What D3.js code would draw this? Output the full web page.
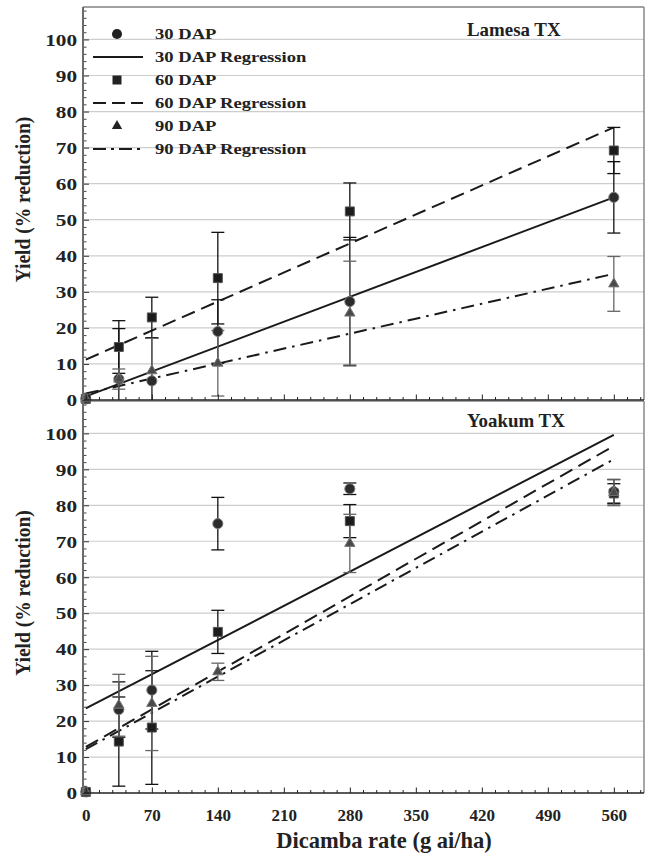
<!DOCTYPE html>
<html>
<head>
<meta charset="utf-8">
<script src="https://cdn.jsdelivr.net/npm/d3@7"></script>
<style>
body { margin: 0; background: #fff; }
svg text { font-family: "Liberation Serif", "Times New Roman", serif; font-weight: bold; fill: #222; }
</style>
</head>
<body>
<div id="chart"></div>
<script>
// rates (g ai/ha) where yield was measured
var rates = [0, 35, 70, 140, 280, 560];
var xMajorTicks = [0, 70, 140, 210, 280, 350, 420, 490, 560];
var yMajorTicks = [0, 10, 20, 30, 40, 50, 60, 70, 80, 90, 100];

// Lamesa TX
var lamesa30    = [0.3, 5.8, 5.3, 19.0, 27.3, 56.2];
var lamesa30Err = [0, 14.0, 11.8, 8.8, 17.8, 9.9];
var lamesa60    = [0.3, 14.7, 22.9, 33.8, 52.3, 69.2];
var lamesa60Err = [0, 7.3, 5.6, 12.7, 7.9, 6.4];
var lamesa90    = [0.3, 5.8, 8.1, 10.2, 24.1, 32.2];
var lamesa90Err = [0, 2.8, 9.0, 9.1, 14.4, 7.6];
// regression lines: fitted value at 0 and at 560
var lamesaReg30 = [1.0, 56.2];
var lamesaReg60 = [11.2, 75.6];
var lamesaReg90 = [1.8, 35.0];

// Yoakum TX
var yoakum30    = [0.3, 23.2, 28.6, 74.9, 84.6, 83.8];
var yoakum30Err = [0, 7.7, 10.8, 7.3, 1.6, 3.4];
var yoakum60    = [0.3, 14.3, 18.2, 44.8, 75.6, 83.3];
var yoakum60Err = [0, 12.4, 15.8, 6.0, 4.6, 2.7];
var yoakum90    = [0.3, 24.4, 24.9, 33.7, 69.4, 83.5];
var yoakum90Err = [0, 8.6, 13.1, 2.4, 8.1, 3.6];
var yoakumReg30 = [23.5, 99.6];
var yoakumReg60 = [12.8, 96.5];
var yoakumReg90 = [12.2, 92.8];
var regRates = [0, 560];

var legendLabels = ["30 DAP", "30 DAP Regression", "60 DAP", "60 DAP Regression", "90 DAP", "90 DAP Regression"];

// styles per DAP series
var seriesStyle = [
  {symbol: d3.symbolCircle, size: 80, fill: "#2b2b2b", stroke: "#7a7a7a", err: "#111", dash: null},
  {symbol: d3.symbolSquare, size: 81, fill: "#1c1c1c", stroke: "#555", err: "#111", dash: "14,7"},
  {symbol: d3.symbolTriangle, size: 46, fill: "#4a4a4a", stroke: "#777", err: "#666", dash: "13,6,2.5,6"}
];

var width = 646, height = 860;
var left = 83, right = 644;

var svg = d3.select("#chart")
  .append("svg")
    .attr("width", width)
    .attr("height", height);

var x = d3.scaleLinear()
  .domain([-3, 592])
  .range([left, right]);

var panels = [
  {name: "Lamesa TX", top: 7, bottom: 400, titleY: 36, labels: false,
   means: [lamesa30, lamesa60, lamesa90], errs: [lamesa30Err, lamesa60Err, lamesa90Err],
   regs: [lamesaReg30, lamesaReg60, lamesaReg90]},
  {name: "Yoakum TX", top: 401, bottom: 793, titleY: 427, labels: true,
   means: [yoakum30, yoakum60, yoakum90], errs: [yoakum30Err, yoakum60Err, yoakum90Err],
   regs: [yoakumReg30, yoakumReg60, yoakumReg90]}
];

panels.forEach(function(p, pi) {
  var y = d3.scaleLinear()
    .domain([0, 109])
    .range([p.bottom, p.top]);

  var g = svg.append("g");

  svg.append("clipPath").attr("id", "clip" + pi)
    .append("rect")
      .attr("x", left).attr("y", p.top)
      .attr("width", right - left).attr("height", p.bottom - p.top);

  // gridlines
  g.selectAll(".grid")
    .data(yMajorTicks.filter(function(d) { return d > 0; }))
    .enter().append("line")
      .attr("x1", left).attr("x2", right)
      .attr("y1", function(d) { return y(d); })
      .attr("y2", function(d) { return y(d); })
      .attr("stroke", "#cdcdcd")
      .attr("stroke-width", 1.2);

  var plot = g.append("g").attr("clip-path", "url(#clip" + pi + ")");

  // regression lines
  p.regs.forEach(function(reg, si) {
    plot.append("line")
      .attr("x1", x(regRates[0])).attr("y1", y(reg[0]))
      .attr("x2", x(regRates[1])).attr("y2", y(reg[1]))
      .attr("stroke", "#1a1a1a")
      .attr("stroke-width", 2)
      .attr("stroke-dasharray", seriesStyle[si].dash);
  });

  // error bars
  p.means.forEach(function(m, si) {
    var st = seriesStyle[si];
    var e = p.errs[si];
    var eb = plot.append("g").attr("stroke", st.err).attr("stroke-width", 1.3);
    rates.forEach(function(r, i) {
      if (e[i] <= 0) return;
      var cx = x(r), y1 = y(m[i] - e[i]), y2 = y(m[i] + e[i]);
      eb.append("line").attr("x1", cx).attr("x2", cx).attr("y1", y1).attr("y2", y2);
      eb.append("line").attr("x1", cx - 6.5).attr("x2", cx + 6.5).attr("y1", y1).attr("y2", y1);
      eb.append("line").attr("x1", cx - 6.5).attr("x2", cx + 6.5).attr("y1", y2).attr("y2", y2);
    });
  });

  // markers
  p.means.forEach(function(m, si) {
    var st = seriesStyle[si];
    g.selectAll(".pt" + si)
      .data(rates)
      .enter().append("path")
        .attr("d", d3.symbol().type(st.symbol).size(st.size))
        .attr("transform", function(r, i) { return "translate(" + x(r) + "," + y(m[i]) + ")"; })
        .attr("fill", st.fill)
        .attr("stroke", st.stroke)
        .attr("stroke-width", 1);
  });

  // y axis, ticks pointing inward
  var yAxis = g.append("g")
    .attr("transform", "translate(" + left + ",0)")
    .call(d3.axisLeft(y).tickValues(yMajorTicks).tickSizeInner(-6).tickSizeOuter(0).tickPadding(4.8))
    .attr("font-size", 17)
    .attr("color", "#333");
  yAxis.select(".domain").remove();
  yAxis.selectAll("text").attr("transform", "scale(1.25,1)").attr("dy", "0.34em");

  var yMinor = g.append("g")
    .attr("transform", "translate(" + left + ",0)")
    .call(d3.axisLeft(y).tickValues(d3.range(2, 109, 2).filter(function(d) { return d % 10 !== 0; }))
      .tickSizeInner(-3.5).tickSizeOuter(0).tickFormat(""))
    .attr("color", "#444");
  yMinor.select(".domain").remove();

  // x axis, ticks pointing up
  var xAxis = g.append("g")
    .attr("transform", "translate(0," + p.bottom + ")")
    .call(d3.axisBottom(x).tickValues(xMajorTicks).tickSizeInner(-5.5).tickSizeOuter(0).tickPadding(16)
      .tickFormat(p.labels ? d3.format("d") : ""))
    .attr("font-size", 17)
    .attr("color", "#222");
  xAxis.select(".domain").remove();

  var xMinor = g.append("g")
    .attr("transform", "translate(0," + p.bottom + ")")
    .call(d3.axisBottom(x).tickValues(d3.range(14, 592, 14).filter(function(d) { return d % 70 !== 0; }))
      .tickSizeInner(-3).tickSizeOuter(0).tickFormat(""))
    .attr("color", "#222");
  xMinor.select(".domain").remove();

  // frame
  g.append("line").attr("x1", left).attr("x2", right).attr("y1", p.top).attr("y2", p.top)
    .attr("stroke", "#444").attr("stroke-width", 1.2);
  g.append("line").attr("x1", right).attr("x2", right).attr("y1", p.top).attr("y2", p.bottom)
    .attr("stroke", "#888").attr("stroke-width", 1.5);
  g.append("line").attr("x1", left).attr("x2", right).attr("y1", p.bottom).attr("y2", p.bottom)
    .attr("stroke", "#222").attr("stroke-width", 1.5);
  g.append("line").attr("x1", left).attr("x2", left).attr("y1", p.top).attr("y2", p.bottom + (pi === 0 ? 0 : 0))
    .attr("stroke", "#6b6b6b").attr("stroke-width", 2);

  // panel title
  g.append("text")
    .attr("transform", "translate(467," + p.titleY + ") scale(1.05,1)")
    .attr("font-size", 18)
    .text(p.name);

  // y title
  g.append("text")
    .attr("transform", "translate(30," + ((p.top + p.bottom) / 2 - 4) + ") scale(1.1,1) rotate(-90)")
    .attr("text-anchor", "middle")
    .attr("font-size", 19.5)
    .text("Yield (% reduction)");
});

// legend
var legend = svg.append("g");
legendLabels.forEach(function(lab, i) {
  var cy = 34 + i * 23;
  var st = seriesStyle[Math.floor(i / 2)];
  if (i % 2 === 0) {
    legend.append("path")
      .attr("d", d3.symbol().type(st.symbol).size(st.size))
      .attr("transform", "translate(117," + cy + ")")
      .attr("fill", "#222");
  } else {
    legend.append("line")
      .attr("x1", 93).attr("x2", 143).attr("y1", cy).attr("y2", cy)
      .attr("stroke", "#1a1a1a").attr("stroke-width", 2)
      .attr("stroke-dasharray", i === 3 ? "13,6" : (i === 5 ? "13,5,3,5" : null));
  }
  legend.append("text")
    .attr("transform", "translate(155," + (cy + 5) + ") scale(1.24,1)")
    .attr("font-size", 15)
    .text(lab);
});

// x title
svg.append("text")
  .attr("x", 384)
  .attr("y", 848)
  .attr("text-anchor", "middle")
  .attr("font-size", 22.5)
  .text("Dicamba rate (g ai/ha)");
</script>
</body>
</html>
